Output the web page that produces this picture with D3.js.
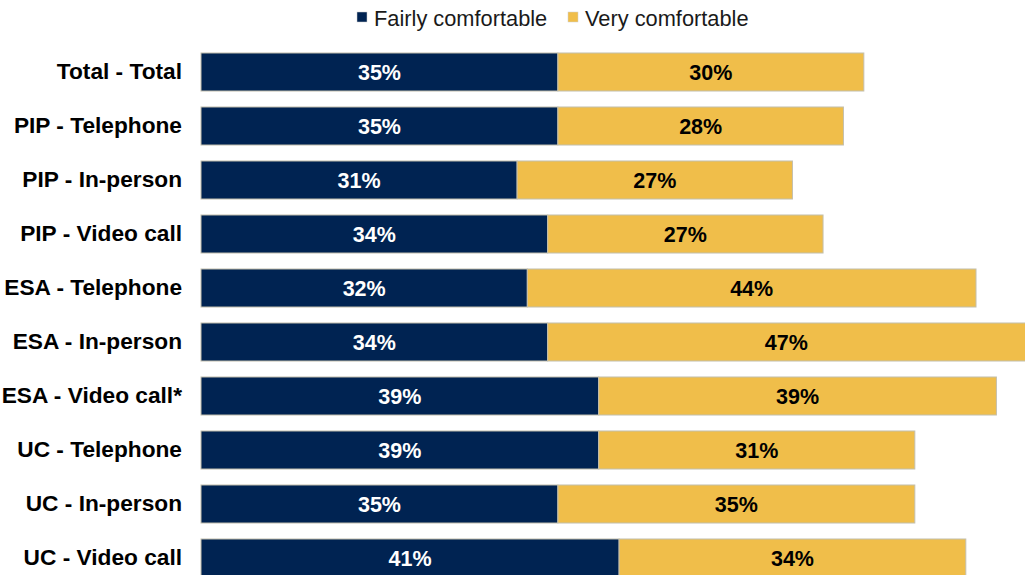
<!DOCTYPE html>
<html>
<head>
<meta charset="utf-8">
<script src="https://cdn.jsdelivr.net/npm/d3@7/dist/d3.min.js"></script>
<style>
  html, body { margin: 0; padding: 0; background: #ffffff; overflow: hidden; }
  svg { display: block; font-family: "Liberation Sans", Arial, sans-serif; }
</style>
</head>
<body>
<svg id="chart" width="1025" height="575"></svg>
<script>
// Comfort levels by benefit and contact channel (percent of respondents)
const categories = [
  "Total - Total",
  "PIP - Telephone",
  "PIP - In-person",
  "PIP - Video call",
  "ESA - Telephone",
  "ESA - In-person",
  "ESA - Video call*",
  "UC - Telephone",
  "UC - In-person",
  "UC - Video call"
];
const fairlyComfortable = [35, 35, 31, 34, 32, 34, 39, 39, 35, 41];
const veryComfortable   = [30, 28, 27, 27, 44, 47, 39, 31, 35, 34];
const seriesNames = ["Fairly comfortable", "Very comfortable"];
const seriesColors = ["#002352", "#F0BE4A"];
const labelColors = ["#ffffff", "#000000"];

const svg = d3.select("#chart");
const W = 1025, H = 575;

const rows = categories.map((c, i) => ({
  category: c,
  "Fairly comfortable": fairlyComfortable[i],
  "Very comfortable": veryComfortable[i]
}));

const stacked = d3.stack().keys(seriesNames)(rows);

const x = d3.scaleLinear().domain([0, 81]).range([201, 1027]);
const y = d3.scaleBand().domain(categories).range([45, 585]).paddingInner(0.296).paddingOuter(0.148);

// Category labels
const yAxis = d3.axisLeft(y).tickSize(0).tickPadding(19);
const gy = svg.append("g").attr("transform", `translate(${x(0)},0)`).call(yAxis);
gy.select(".domain").remove();
gy.selectAll("text")
  .attr("font-size", 22.7)
  .attr("font-weight", "bold")
  .attr("fill", "#000")
  .attr("font-family", "'Liberation Sans', Arial, sans-serif");

// Stacked bars
const layers = svg.append("g").selectAll("g")
  .data(stacked)
  .join("g")
  .attr("fill", (d, i) => seriesColors[i]);

layers.selectAll("rect")
  .data(d => d)
  .join("rect")
  .attr("x", d => x(d[0]))
  .attr("y", d => y(d.data.category))
  .attr("width", d => x(d[1]) - x(d[0]))
  .attr("height", y.bandwidth())
  .attr("stroke", "#c3bfae")
  .attr("stroke-width", 1);

// Value labels centred in each segment
stacked.forEach((layer, li) => {
  svg.append("g").selectAll("text")
    .data(layer)
    .join("text")
    .attr("x", d => (x(d[0]) + Math.min(x(d[1]), W)) / 2)
    .attr("y", d => y(d.data.category) + y.bandwidth() / 2 + 1)
    .attr("text-anchor", "middle")
    .attr("dominant-baseline", "central")
    .attr("font-size", 21.5)
    .attr("font-weight", "bold")
    .attr("fill", labelColors[li])
    .text(d => `${d[1] - d[0]}%`);
});

// Legend
const legendItems = [
  { name: seriesNames[0], color: seriesColors[0], x: 357 },
  { name: seriesNames[1], color: seriesColors[1], x: 568 }
];
const legend = svg.append("g");
legendItems.forEach(item => {
  legend.append("rect")
    .attr("x", item.x).attr("y", 12)
    .attr("width", 10).attr("height", 10)
    .attr("fill", item.color)
    .attr("stroke", "#d0d0d0").attr("stroke-width", 0.5);
  legend.append("text")
    .attr("x", item.x + 17).attr("y", 18)
    .attr("dominant-baseline", "central")
    .attr("font-size", 21.8)
    .attr("fill", "#1a1a1a")
    .text(item.name);
});
</script>
</body>
</html>
